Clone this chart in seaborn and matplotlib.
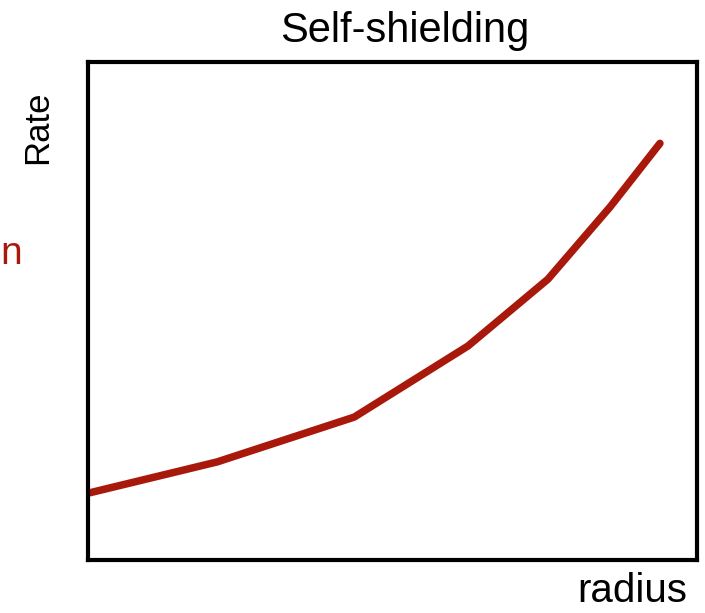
import matplotlib
matplotlib.use("Agg")
import matplotlib.pyplot as plt
import seaborn as sns
import pandas as pd

# ── Data (axes normalised 0-1) ───────────────────────────────────────────────
radius = [0.003, 0.212, 0.437, 0.624, 0.755, 0.857, 0.939]
rate   = [0.135, 0.197, 0.287, 0.430, 0.564, 0.709, 0.837]

LINE_COLOR = "#a8190c"
FONT = ["Liberation Sans", "DejaVu Sans"]

sns.set_style("white")
plt.rcParams["font.family"] = FONT
plt.rcParams["text.color"] = "black"

df = pd.DataFrame({"radius": radius, "rate": rate})

fig = plt.figure(figsize=(7.05, 6.13), dpi=100)
ax = fig.add_axes([0.1248, 0.0865, 0.864, 0.812])
sns.lineplot(data=df, x="radius", y="rate", ax=ax, color=LINE_COLOR,
             linewidth=5.4, sort=False)

ax.set_xlim(0, 1)
ax.set_ylim(0, 1)
ax.set_xticks([])
ax.set_yticks([])
ax.set_xlabel("")
ax.set_ylabel("")
for sp in ax.spines.values():
    sp.set_visible(True)
    sp.set_edgecolor("black")
    sp.set_linewidth(3)

fig.text(0.574, 0.950, "Self-shielding", ha="center", va="center", fontsize=30)
fig.text(0.054, 0.793, "Rate", ha="center", va="center", rotation=90, fontsize=25)
fig.text(0.897, 0.036, "radius", ha="center", va="center", fontsize=29)
fig.text(0.0, 0.585, "n", ha="left", va="center", fontsize=28, color=LINE_COLOR)

fig.savefig("out.png", dpi=100)
